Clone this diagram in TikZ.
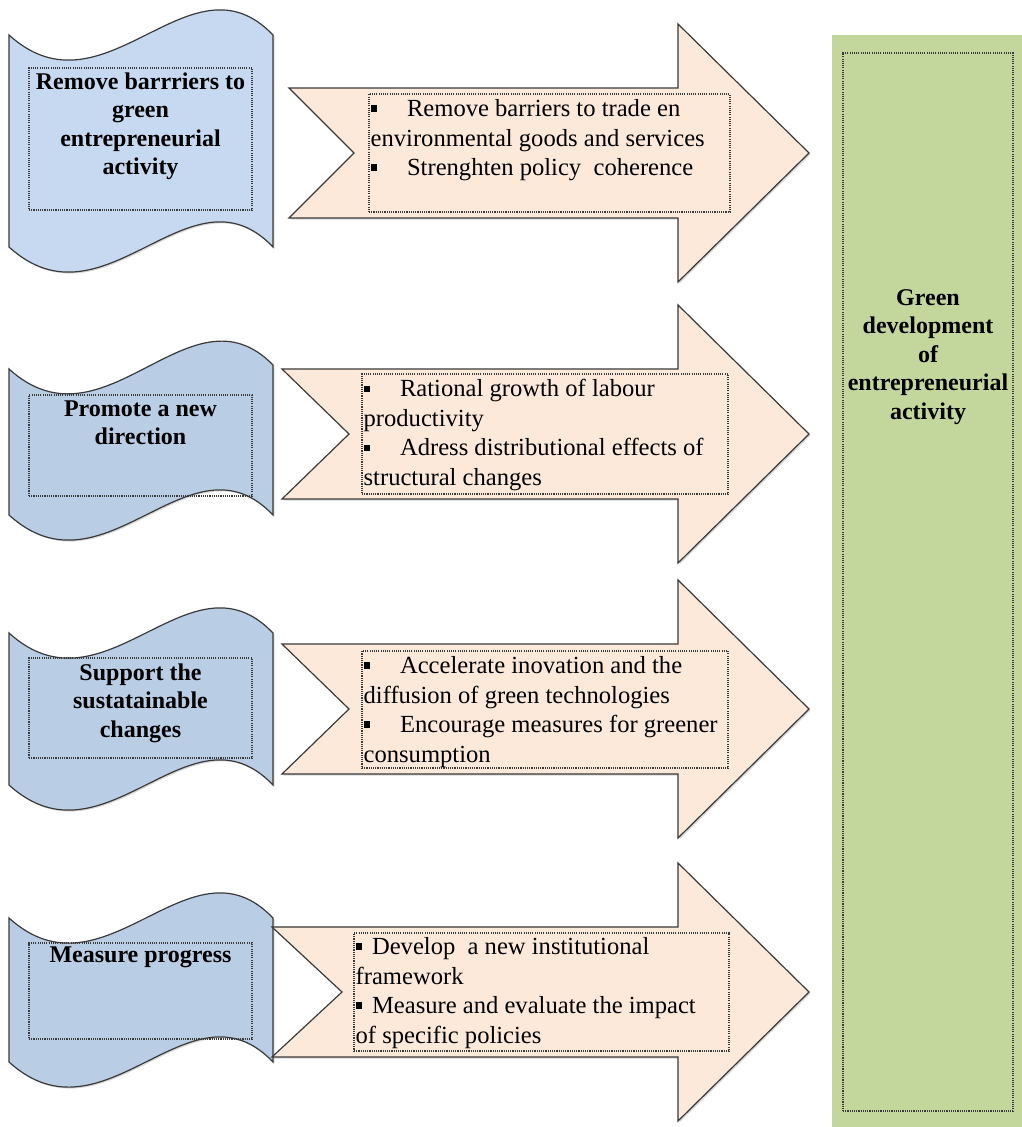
\documentclass[tikz,border=0pt]{standalone}
\usepackage{fontspec}
\setmainfont{Liberation Serif}
\usetikzlibrary{shadows}
\definecolor{bannerA}{HTML}{C6D9F1}
\definecolor{bannerB}{HTML}{B9CDE5}
\definecolor{peach}{HTML}{FDE9D9}
\definecolor{olive}{HTML}{C3D69B}
\definecolor{edge}{HTML}{3A3A3A}
\newcommand{\sqbul}{\rule[0.2em]{0.26em}{0.26em}}
\tikzset{
  banner/.style={draw=edge, line width=1.2pt, drop shadow={shadow xshift=1.5pt, shadow yshift=-1.5pt, opacity=0.3}},
  notcharrow/.style={fill=peach, draw=edge, line width=1.2pt, drop shadow={shadow xshift=1.5pt, shadow yshift=-1.5pt, opacity=0.3}},
  dotbox/.style={draw=edge, line width=1.1pt, dash pattern=on 1.1pt off 1.1pt, inner sep=0pt},
  bannertext/.style={font=\fontsize{24}{28.5}\selectfont\bfseries, align=center, anchor=north, inner sep=0pt},
  listtext/.style={font=\fontsize{24.6}{29.5}\selectfont, align=left, anchor=north west, inner sep=0pt}
}

\begin{document}
\begin{tikzpicture}[x=1pt, y=-1pt]
\useasboundingbox[fill=white] (0,0) rectangle (1022,1127);

% goal column
\fill[olive] (832,35) rectangle (1022,1127);
\node[dotbox, minimum width=170pt, minimum height=1058pt](goalbox) at (928,582){};
\node[bannertext, anchor=center](goal) at (928,357){Green\\development\\of\\entrepreneurial\\activity};

% banners
\draw[banner, fill=bannerA] (9,35) .. controls (105,122) and (190,-52) .. (273,35) -- (273,247) .. controls (190,160) and (105,334) .. (9,247) -- cycle;
\draw[banner, fill=bannerB] (9,369) .. controls (105,456) and (190,280) .. (273,365) -- (273,515) .. controls (190,428) and (105,602) .. (9,515) -- cycle;
\draw[banner, fill=bannerB] (9,633) .. controls (105,720) and (190,546) .. (273,633) -- (273,785) .. controls (190,698) and (105,872) .. (9,785) -- cycle;
\draw[banner, fill=bannerB] (9,918) .. controls (105,1005) and (190,831) .. (273,918) -- (273,1062) .. controls (190,975) and (105,1149) .. (9,1062) -- cycle;

\node[dotbox, minimum width=223pt, minimum height=142pt](box1) at (140.5,139){};
\node[dotbox, minimum width=223pt, minimum height=101pt](box2) at (140.5,445.5){};
\node[dotbox, minimum width=223pt, minimum height=100pt](box3) at (140.5,708){};
\node[dotbox, minimum width=223pt, minimum height=96pt](box4) at (140.5,991){};

\node[bannertext](remove) at ([yshift=-5pt]box1.north){Remove barrriers to\\green\\entrepreneurial\\activity};
\node[bannertext](promote) at ([yshift=-6pt]box2.north){Promote a new\\direction};
\node[bannertext](support) at ([yshift=-6pt]box3.north){Support the\\sustatainable\\changes};
\node[bannertext](measure) at ([yshift=-4pt]box4.north){Measure progress};

% arrows
\draw[notcharrow] (289,88) -- (678,88) -- (678,24) -- (809,153) -- (678,282) -- (678,218) -- (289,218) -- (354,153) -- cycle;
\draw[notcharrow] (282,369) -- (678,369) -- (678,305) -- (809,434) -- (678,563) -- (678,499) -- (282,499) -- (349,434) -- cycle;
\draw[notcharrow] (282,644) -- (678,644) -- (678,580) -- (809,709) -- (678,838) -- (678,774) -- (282,774) -- (349,709) -- cycle;
\draw[notcharrow] (272,927) -- (678,927) -- (678,863) -- (809,992) -- (678,1121) -- (678,1057) -- (272,1057) -- (342,992) -- cycle;

\node[dotbox, minimum width=361pt, minimum height=118pt](list1) at (549.5,153){};
\node[dotbox, minimum width=366pt, minimum height=120pt](list2) at (545,434){};
\node[dotbox, minimum width=366pt, minimum height=117pt](list3) at (545,709.5){};
\node[dotbox, minimum width=375pt, minimum height=118pt](list4) at (541.5,992){};

\node[listtext](trade) at ([xshift=2pt, yshift=-6pt]list1.north west){\sqbul\hspace{30pt}Remove barriers to trade en\\environmental goods and services\\\sqbul\hspace{30pt}Strenghten policy~ coherence};
\node[listtext](growth) at ([xshift=2pt, yshift=-6pt]list2.north west){\sqbul\hspace{30pt}Rational growth of labour\\productivity\\\sqbul\hspace{30pt}Adress distributional effects of\\structural changes};
\node[listtext](inovation) at ([xshift=2pt, yshift=-6pt]list3.north west){\sqbul\hspace{30pt}Accelerate inovation and the\\diffusion of green technologies\\\sqbul\hspace{30pt}Encourage measures for greener\\consumption};
\node[listtext](framework) at ([xshift=2pt, yshift=-5pt]list4.north west){\sqbul\hspace{10pt}Develop~ a new institutional\\framework\\\sqbul\hspace{10pt}Measure and evaluate the impact\\of specific policies};

\end{tikzpicture}
\end{document}
